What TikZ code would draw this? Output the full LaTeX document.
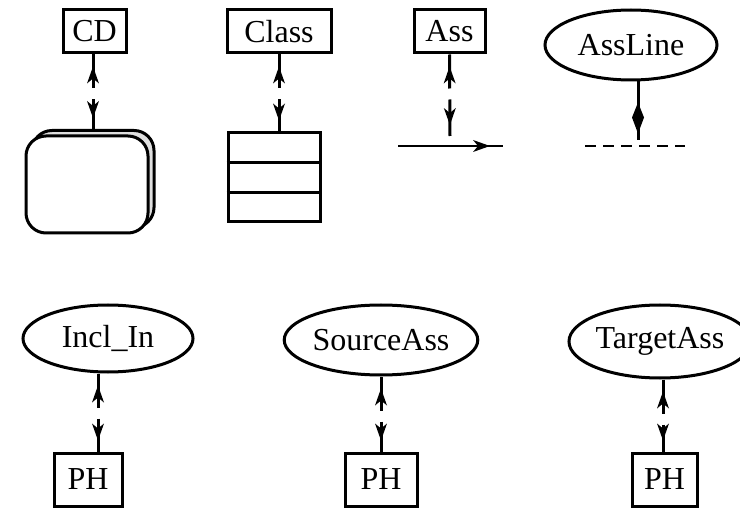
\documentclass[tikz,border=0pt]{standalone}
\usepackage{fontspec}
\setmainfont{Liberation Serif}
\usetikzlibrary{shapes.geometric,decorations.markings,calc}

\begin{document}
\begin{tikzpicture}[x=1pt,y=-1pt,line width=3pt,
  every node/.style={font=\fontsize{32}{36}\selectfont,inner sep=0pt},
  labelbox/.style={draw,rectangle,minimum height=43pt},
  phbox/.style={draw,rectangle,minimum height=53pt},
  oval/.style={draw,ellipse},
  cdshape/.style={draw,rectangle,rounded corners=20pt,minimum width=122pt,minimum height=97pt},
  % two-way link: solid part with an upward head, short gap, solid part with a downward head
  link/.style={dash pattern=on 34pt off 11pt on 300pt,
    postaction={decorate},
    decoration={markings,
      mark=at position 12pt with {\fill (0pt,0pt) -- (17pt,6pt) -- (12pt,0pt) -- (17pt,-6pt) -- cycle;},
      mark=at position -11pt with {\fill (0pt,0pt) -- (-17pt,6pt) -- (-12pt,0pt) -- (-17pt,-6pt) -- cycle;}}},
  diamondlink/.style={postaction={decorate},
    decoration={markings,
      mark=at position 36pt with {\fill (-15pt,0pt) -- (0pt,6pt) -- (16pt,0pt) -- (0pt,-6pt) -- cycle;}}},
  arrowline/.style={line width=2.6pt,postaction={decorate},
    decoration={markings,
      mark=at position 92pt with {\fill (0pt,0pt) -- (-17pt,6pt) -- (-12pt,0pt) -- (-17pt,-6pt) -- cycle;}}},
  dashline/.style={line width=2.6pt,dash pattern=on 11pt off 7pt}]

\fill[white] (0,0) rectangle (740,508);
\useasboundingbox (0,0) rectangle (740,508);

% top row
\node[labelbox,minimum width=63pt] (cd) at (94.5,31.5) {CD};
\node[labelbox,minimum width=104pt] (cls) at (279,31.5) {Class};
\node[labelbox,minimum width=71pt] (ass) at (449.5,31.5) {Ass};
\node[oval,minimum width=172pt,minimum height=70pt] (al) at (631,45) {AssLine};

% diagram symbol: stacked rounded sheets
\node[cdshape,fill=gray!25] (cdback) at (93,179) {};
\node[cdshape,fill=white] (cdfront) at (87,184.5) {};

% class symbol with three compartments
\node[draw,rectangle,minimum width=92pt,minimum height=89pt] (comp) at (274,177.5) {};
\draw ($(comp.north west)!1/3!(comp.south west)$) -- ($(comp.north east)!1/3!(comp.south east)$);
\draw ($(comp.north west)!2/3!(comp.south west)$) -- ($(comp.north east)!2/3!(comp.south east)$);

% association arrow and dashed line symbols
\coordinate (assend) at (450,136);
\coordinate (arrA) at (398,146);
\coordinate (arrB) at (503,146);
\draw[arrowline] (arrA) -- (arrB);
\coordinate (lineend) at (638,140);
\coordinate (dashA) at (585,146);
\coordinate (dashB) at (685,146);
\draw[dashline] (dashA) -- (dashB);

\draw[link] (cd.south -| cdback.north) -- (cdback.north);
\draw[link] (cls.south) -- (cls.south |- comp.north);
\draw[link] (ass.south) -- (assend);
\draw[diamondlink] ([xshift=7pt]al.south) -- (lineend);

% bottom row
\node[oval,minimum width=170pt,minimum height=67pt] (inc) at (108,338.5) {Incl\_In};
\node[oval,minimum width=172pt,minimum height=70pt] (src) at (381,340) {SourceAss};
\node[oval,minimum width=159pt,minimum height=73pt] (tgt) at (660,341.5) {TargetAss};

\node[phbox,minimum width=68pt] (ph1) at (88,479.5) {PH};
\node[phbox,minimum width=72pt] (ph2) at (381,479.5) {PH};
\node[phbox,minimum width=65pt] (ph3) at (664.5,479.5) {PH};

\draw[link] ([xshift=-10pt]inc.south) -- ([xshift=10pt]ph1.north);
\draw[link] ([xshift=3pt]tgt.south) -- ([xshift=-1.5pt]ph3.north);
\draw[link] (src.south) -- (ph2.north);

\end{tikzpicture}
\end{document}
